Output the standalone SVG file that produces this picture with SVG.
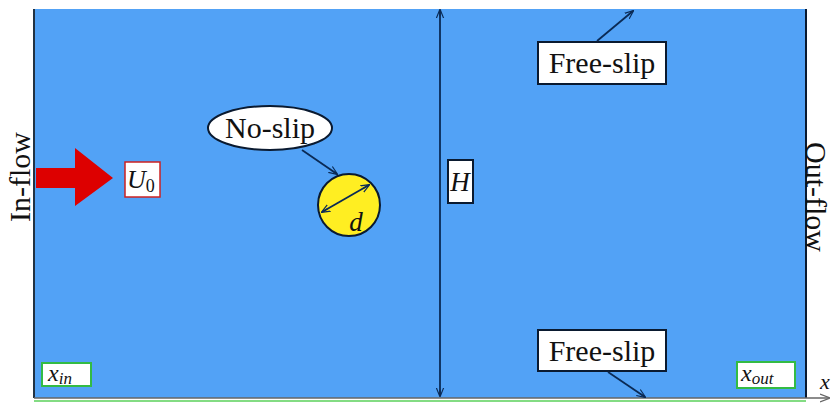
<svg xmlns="http://www.w3.org/2000/svg" width="831" height="403" viewBox="0 0 831 403">
<defs>
<marker id="ah" viewBox="0 0 10 10" refX="9" refY="5" markerWidth="9" markerHeight="9" orient="auto-start-reverse" markerUnits="userSpaceOnUse">
<path d="M0,1 L10,5 L0,9 M10,5 L2,5" fill="none" stroke="#0a2a55" stroke-width="1.3"/>
</marker>
<marker id="ahg" viewBox="0 0 10 10" refX="9" refY="5" markerWidth="10" markerHeight="10" orient="auto" markerUnits="userSpaceOnUse">
<path d="M0,1 L10,5 L0,9" fill="none" stroke="#666" stroke-width="1.2"/>
</marker>
</defs>
<style>
.lbl{font-family:"Liberation Serif","DejaVu Serif",serif;font-size:30px;fill:#111}
.math{font-family:"Liberation Serif","DejaVu Serif",serif;font-style:italic;fill:#111}
.box{fill:#fff;stroke:#0a1a30;stroke-width:2}
.conn{stroke:#0a2a55;stroke-width:1.8;fill:none}
</style>
<rect x="0" y="0" width="831" height="403" fill="#fff"/>
<g id="domain">
<rect x="34" y="9" width="772" height="389" fill="#52a2f6"/>
<line x1="34" y1="9" x2="34" y2="398" stroke="#223344" stroke-width="2"/>
<line x1="806" y1="9" x2="806" y2="398" stroke="#0a1a30" stroke-width="2"/>
<line x1="34" y1="401" x2="806" y2="401" stroke="#5ad05a" stroke-width="1.5"/>
</g>
<g id="inflow">
<text class="lbl" transform="translate(30,177) rotate(-90)" text-anchor="middle">In-flow</text>
</g>
<g id="outflow">
<text class="lbl" transform="translate(806,197) rotate(90)" text-anchor="middle" font-size="27">Out-flow</text>
</g>
<g id="arrow-u0">
<polygon points="36,168 75,168 75,148 113,178 75,206 75,188 36,188" fill="#dd0000"/>
</g>
<g id="u0">
<rect x="125" y="162" width="35" height="35" fill="#fff" stroke="#cc2222" stroke-width="1.5"/>
<text class="math" x="127" y="188" font-size="26">U<tspan font-style="normal" font-size="18" dy="4">0</tspan></text>
</g>
<g id="noslip">
<ellipse cx="270" cy="128" rx="62" ry="22" fill="#fff" stroke="#0a1a30" stroke-width="2"/>
<text class="lbl" x="270" y="138" text-anchor="middle">No-slip</text>
</g>
<g id="cylinder">
<circle cx="349" cy="205" r="31" fill="#ffee22" stroke="#0a1a30" stroke-width="2"/>
<text class="math" x="356" y="231" font-size="27" text-anchor="middle">d</text>
</g>
<g id="h-label">
<rect x="448" y="160" width="25" height="43" class="box"/>
<text class="math" x="460" y="191" font-size="27" text-anchor="middle">H</text>
</g>
<g id="freeslip-top">
<rect x="538" y="42" width="128" height="42" class="box"/>
<text class="lbl" x="602" y="73" text-anchor="middle">Free-slip</text>
</g>
<g id="freeslip-bottom">
<rect x="538" y="330" width="128" height="41" class="box"/>
<text class="lbl" x="602" y="361" text-anchor="middle">Free-slip</text>
</g>
<g id="xin">
<rect x="42" y="363" width="49" height="23" fill="#fff" stroke="#33bb44" stroke-width="2"/>
<text class="math" x="48" y="381" font-size="24">x<tspan font-size="17" dy="3">in</tspan></text>
</g>
<g id="xout">
<rect x="737" y="362" width="58" height="26" fill="#fff" stroke="#33bb44" stroke-width="2"/>
<text class="math" x="741" y="381" font-size="24">x<tspan font-size="17" dy="3">out</tspan></text>
</g>
<g id="x-axis-label">
<text class="math" x="820" y="389" font-size="22">x</text>
</g>
<g id="connectors">
<line x1="34" y1="398" x2="829" y2="398" stroke="#666" stroke-width="1.5" marker-end="url(#ahg)"/>
<line class="conn" x1="440" y1="10" x2="440" y2="396" marker-start="url(#ah)" marker-end="url(#ah)"/>
<line class="conn" x1="302" y1="150" x2="337" y2="174" marker-end="url(#ah)"/>
<line class="conn" x1="322" y1="212" x2="369" y2="185" marker-start="url(#ah)" marker-end="url(#ah)"/>
<line class="conn" x1="597" y1="41" x2="633" y2="11" marker-end="url(#ah)"/>
<line class="conn" x1="608" y1="372" x2="645" y2="397" marker-end="url(#ah)"/>
</g>
</svg>
